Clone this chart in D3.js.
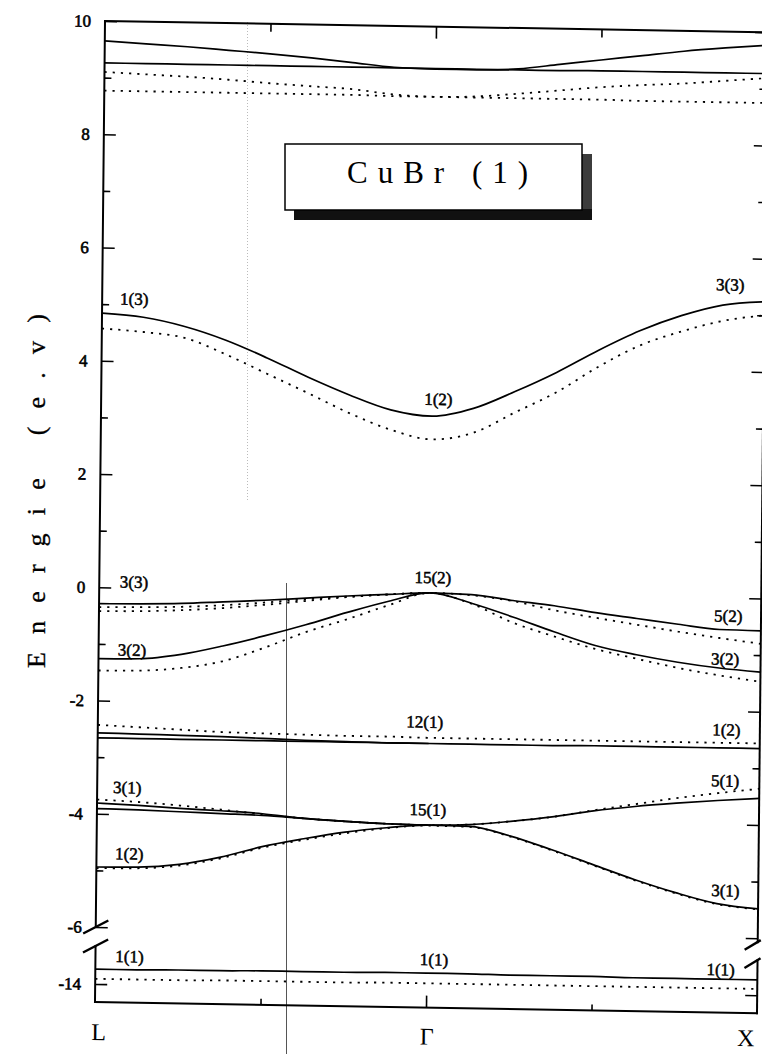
<!DOCTYPE html>
<html>
<head>
<meta charset="utf-8">
<script src="https://cdn.jsdelivr.net/npm/d3@7"></script>
<style>
  html, body { margin: 0; padding: 0; background: #fff; }
  svg { display: block; }
</style>
</head>
<body>
<svg id="chart" width="762" height="1054" font-family="'Liberation Serif', 'Times New Roman', serif"></svg>
<script>
// Wave-vector path: L = 0, Γ = 0.5, X = 1
const kFull = [0, 0.0625, 0.125, 0.1875, 0.25, 0.3125, 0.375, 0.4375, 0.5,
               0.5625, 0.625, 0.6875, 0.75, 0.8125, 0.875, 0.9375, 1];
const kHalf = [0, 0.0625, 0.125, 0.1875, 0.25, 0.3125, 0.375, 0.4375, 0.5];

// Energies in eV (solid = first calculation, dotted = second)
const highSolidA  = [9.65, 9.61, 9.57, 9.52, 9.47, 9.41, 9.34, 9.27, 9.25, 9.25, 9.28, 9.37, 9.46, 9.55, 9.64, 9.71, 9.77];
const highSolidB  = [9.26, 9.26, 9.26, 9.26, 9.26, 9.26, 9.26, 9.26, 9.26, 9.26, 9.26, 9.26, 9.27, 9.27, 9.27, 9.27, 9.27];
const highDotA    = [9.10, 9.07, 9.04, 9.00, 8.95, 8.91, 8.87, 8.79, 8.76, 8.78, 8.84, 8.91, 8.98, 9.03, 9.07, 9.13, 9.19];
const highDotB    = [8.77, 8.77, 8.77, 8.77, 8.77, 8.77, 8.77, 8.76, 8.76, 8.76, 8.76, 8.76, 8.76, 8.75, 8.75, 8.75, 8.75];

const condSolid   = [4.84, 4.78, 4.63, 4.40, 4.10, 3.77, 3.47, 3.22, 3.12, 3.27, 3.58, 3.93, 4.33, 4.69, 4.97, 5.17, 5.24];
const condDot     = [4.57, 4.52, 4.43, 4.15, 3.82, 3.49, 3.15, 2.87, 2.71, 2.84, 3.21, 3.58, 4.04, 4.43, 4.69, 4.89, 5.00];

const vbTopSolid  = [-0.29, -0.28, -0.26, -0.22, -0.18, -0.13, -0.08, -0.04, 0.00, -0.02, -0.11, -0.19, -0.30, -0.39, -0.48, -0.56, -0.57];
const vbMidSolid  = [-1.26, -1.25, -1.16, -1.00, -0.81, -0.60, -0.37, -0.16, 0.00, -0.17, -0.40, -0.65, -0.88, -1.03, -1.15, -1.24, -1.30];
const vbTopDotA   = [-0.35, -0.34, -0.32, -0.28, -0.22, -0.15, -0.09, -0.04, 0.00, -0.03, -0.12, -0.27, -0.39, -0.50, -0.61, -0.71, -0.80];
const vbTopDotB   = [-0.42, -0.41, -0.38, -0.33, -0.26, -0.18, -0.10, -0.04, 0.00];
const vbMidDot    = [-1.47, -1.46, -1.40, -1.27, -1.02, -0.73, -0.49, -0.23, 0.00, -0.18, -0.50, -0.73, -0.94, -1.10, -1.25, -1.37, -1.47];

const dSolidA     = [-2.57, -2.58, -2.59, -2.60, -2.62, -2.64, -2.65, -2.66, -2.66];
const dSolidB     = [-2.66, -2.66, -2.66, -2.66, -2.66, -2.66, -2.66, -2.66, -2.66, -2.66, -2.66, -2.66, -2.65, -2.65, -2.65, -2.65, -2.65];
const dDot        = [-2.43, -2.46, -2.49, -2.52, -2.53, -2.54, -2.55, -2.55, -2.56, -2.56, -2.56, -2.56, -2.56, -2.56, -2.56, -2.56, -2.56];

const pSolidA     = [-3.81, -3.84, -3.88, -3.91, -3.95, -4.02, -4.06, -4.09, -4.10, -4.08, -4.01, -3.92, -3.80, -3.71, -3.64, -3.58, -3.53];
const pSolidB     = [-3.91, -3.92, -3.94, -3.96, -3.98, -4.02, -4.06, -4.09, -4.10];
const pDotA       = [-3.75, -3.78, -3.83, -3.89, -3.96, -4.02, -4.06, -4.09, -4.10, -4.08, -4.01, -3.92, -3.79, -3.67, -3.55, -3.45, -3.36];
const pLowSolid   = [-4.94, -4.93, -4.87, -4.73, -4.53, -4.38, -4.25, -4.16, -4.10, -4.11, -4.27, -4.50, -4.75, -5.00, -5.22, -5.40, -5.48];
const pLowDot     = [-4.96, -4.95, -4.89, -4.75, -4.55, -4.40, -4.27, -4.17, -4.11, -4.12, -4.28, -4.51, -4.76, -5.01, -5.23, -5.41, -5.49];

const sSolid      = [-13.74, -13.74, -13.73, -13.73, -13.72, -13.72, -13.72, -13.71, -13.71, -13.71, -13.72, -13.72, -13.72, -13.73, -13.73, -13.73, -13.73];
const sDot        = [-13.91, -13.91, -13.91, -13.90, -13.90, -13.90, -13.90, -13.89, -13.89, -13.89, -13.89, -13.89, -13.89, -13.89, -13.89, -13.89, -13.89];

// Axis ticks
const yMajor = [10, 8, 6, 4, 2, 0, -2, -4, -6, -14];
const yMinor = [9, 7, 5, 3, 1, -1, -3, -5];
const yTickLabels = ["10", "8", "6", "4", "2", "0", "-2", "-4", "-6", "-14"];
const kPoints = [0, 0.5, 1];
const kPointLabels = ["L", "Γ", "X"];

// Symmetry labels: text, k position, energy
const bandLabels = [
  { t: "1(3)",  k: 0.027, e: 5.00 },
  { t: "1(2)",  k: 0.488, e: 3.32 },
  { t: "3(3)",  k: 0.927, e: 5.43 },
  { t: "3(3)",  k: 0.031, e: 0.00 },
  { t: "3(2)",  k: 0.029, e: -1.20 },
  { t: "15(2)", k: 0.476, e: 0.17 },
  { t: "5(2)",  k: 0.929, e: -0.42 },
  { t: "3(2)",  k: 0.925, e: -1.18 },
  { t: "12(1)", k: 0.466, e: -2.38 },
  { t: "1(2)",  k: 0.928, e: -2.43 },
  { t: "3(1)",  k: 0.024, e: -3.63 },
  { t: "5(1)",  k: 0.927, e: -3.33 },
  { t: "15(1)", k: 0.472, e: -3.93 },
  { t: "1(2)",  k: 0.028, e: -4.80 },
  { t: "3(1)",  k: 0.929, e: -5.27 },
  { t: "1(1)",  k: 0.030, e: -13.61 },
  { t: "1(1)",  k: 0.490, e: -13.57 },
  { t: "1(1)",  k: 0.923, e: -13.66 }
];

const bands = [
  { k: kFull, e: highSolidA, dotted: false },
  { k: kFull, e: highSolidB, dotted: false },
  { k: kFull, e: highDotA,   dotted: true },
  { k: kFull, e: highDotB,   dotted: true },
  { k: kFull, e: condSolid,  dotted: false },
  { k: kFull, e: condDot,    dotted: true },
  { k: kFull, e: vbTopDotA,  dotted: true },
  { k: kHalf, e: vbTopDotB,  dotted: true },
  { k: kFull, e: vbMidDot,   dotted: true },
  { k: kFull, e: vbTopSolid, dotted: false },
  { k: kFull, e: vbMidSolid, dotted: false },
  { k: kFull, e: dDot,       dotted: true },
  { k: kHalf, e: dSolidA,    dotted: false },
  { k: kFull, e: dSolidB,    dotted: false },
  { k: kFull, e: pDotA,      dotted: true },
  { k: kFull, e: pLowDot,    dotted: true },
  { k: kFull, e: pSolidA,    dotted: false },
  { k: kHalf, e: pSolidB,    dotted: false },
  { k: kFull, e: pLowSolid,  dotted: false },
  { k: kFull, e: sDot,       dotted: true },
  { k: kFull, e: sSolid,     dotted: false }
];

const SERIF = "'Liberation Serif', 'Times New Roman', serif";
const W = 662, H = 981;
const x = d3.scaleLinear().domain([0, 1]).range([0, W]);
// broken energy axis: lower window around -14 eV, gap, then -6..10 eV
const y = d3.scaleLinear().domain([-14.318, -13.35, -6, 10]).range([H, 926, 906, 0]);

const svg = d3.select("#chart");
svg.append("rect").attr("width", 762).attr("height", 1054).attr("fill", "#fff");

// thin guide lines on the sheet
svg.append("line").attr("x1", 247.5).attr("y1", 22).attr("x2", 247.5).attr("y2", 500)
  .attr("stroke", "#bbb").attr("stroke-width", 1).attr("stroke-dasharray", "1,2");
svg.append("line").attr("x1", 286.5).attr("y1", 583).attr("x2", 286.5).attr("y2", 1054)
  .attr("stroke", "#555").attr("stroke-width", 1);

// plot frame (slightly sheared like the printed sheet)
const g = svg.append("g").attr("transform", "matrix(1,0.017,-0.0102,1,105,21)");

const line = d3.line()
  .x(d => x(d[0]))
  .y(d => y(d[1]))
  .curve(d3.curveMonotoneX);

g.append("g").selectAll("path").data(bands).join("path")
  .attr("d", b => line(b.k.map((k, i) => [k, b.e[i]])))
  .attr("fill", "none")
  .attr("stroke", "#000")
  .attr("stroke-width", b => b.dotted ? 1.8 : 1.7)
  .attr("stroke-dasharray", b => b.dotted ? "2.2,6" : null);

// ticks via d3 axes
function ticks(axisGen, tx, ty) {
  const a = g.append("g").attr("transform", `translate(${tx},${ty})`).call(axisGen);
  a.select(".domain").remove();
  a.selectAll("line").attr("stroke", "#000").attr("stroke-width", 1.6);
  a.selectAll("text").remove();
}
ticks(d3.axisRight(y).tickValues(yMajor).tickSize(12).tickSizeOuter(0), 0, 0);
ticks(d3.axisRight(y).tickValues(yMinor).tickSize(7).tickSizeOuter(0), 0, 0);
ticks(d3.axisLeft(y).tickValues(yMajor).tickSize(12).tickSizeOuter(0), W, 0);
ticks(d3.axisLeft(y).tickValues(yMinor).tickSize(7).tickSizeOuter(0), W, 0);
ticks(d3.axisBottom(x).tickValues([0.5]).tickSize(12).tickSizeOuter(0), 0, 0);
ticks(d3.axisBottom(x).tickValues([0.25, 0.75]).tickSize(8).tickSizeOuter(0), 0, 0);
ticks(d3.axisTop(x).tickValues([0.5]).tickSize(12).tickSizeOuter(0), 0, H);
ticks(d3.axisTop(x).tickValues([0.25, 0.75]).tickSize(6).tickSizeOuter(0), 0, H);

// frame lines with breaks
const frame = [
  [0, 0, W, 0],
  [0, H, W, H],
  [0, 0, 0, y(-6)],
  [0, 925, 0, H],
  [W, 0, W, 910],
  [W, 928, W, H]
];
g.append("g").selectAll("line").data(frame).join("line")
  .attr("x1", d => d[0]).attr("y1", d => d[1])
  .attr("x2", d => d[2]).attr("y2", d => d[3])
  .attr("stroke", "#000").attr("stroke-width", 2)
  .attr("stroke-linecap", "square");

// break marks
const slashes = [
  [-12.5, y(-6) + 6.7, 12.5, y(-6) - 6.7],
  [-12.5, 925 + 6.7, 12.5, 925 - 6.7],
  [W - 13, 917.8, W + 3, 907.8],
  [W - 13, 936, W + 3, 926]
];
g.append("g").selectAll("line").data(slashes).join("line")
  .attr("x1", d => d[0]).attr("y1", d => d[1])
  .attr("x2", d => d[2]).attr("y2", d => d[3])
  .attr("stroke", "#000").attr("stroke-width", 2.4);

// energy tick labels
g.append("g").selectAll("text").data(yMajor).join("text")
  .attr("font-family", SERIF)
  .attr("x", -14)
  .attr("y", d => y(d))
  .attr("dy", "0.35em")
  .attr("text-anchor", "end")
  .attr("font-size", 17)
  .attr("stroke", "#000").attr("stroke-width", 0.6)
  .text((d, i) => yTickLabels[i]);

// high-symmetry point labels
g.append("g").selectAll("text").data(kPoints).join("text")
  .attr("font-family", SERIF)
  .attr("x", (d, i) => x(d) + [4, 1, -11][i])
  .attr("y", (d, i) => [1019, 1018, 1014][i])
  .attr("text-anchor", "middle")
  .attr("font-size", 24)
  .text((d, i) => kPointLabels[i]);

// band symmetry labels
g.append("g").selectAll("text").data(bandLabels).join("text")
  .attr("font-family", SERIF)
  .attr("x", d => x(d.k))
  .attr("y", d => y(d.e))
  .attr("font-size", 17)
  .attr("stroke", "#000").attr("stroke-width", 0.5)
  .text(d => d.t);

// axis title
svg.append("text")
  .attr("font-family", SERIF)
  .attr("transform", "translate(45,491) rotate(-90)")
  .attr("text-anchor", "middle")
  .attr("font-size", 26)
  .attr("stroke", "#000").attr("stroke-width", 0.3)
  .attr("textLength", 354)
  .attr("lengthAdjust", "spacing")
  .text("Energie (e.v)");

// title box with drop shadow
const box = svg.append("g");
box.append("rect").attr("x", 582).attr("y", 154).attr("width", 10).attr("height", 66).attr("fill", "#3c3c3c");
box.append("rect").attr("x", 294).attr("y", 209).attr("width", 298).attr("height", 11).attr("fill", "#111");
box.append("rect").attr("x", 285).attr("y", 144).attr("width", 297).attr("height", 66)
  .attr("fill", "#fff").attr("stroke", "#000").attr("stroke-width", 1.5);
box.append("text")
  .attr("font-family", SERIF)
  .attr("x", 437.5).attr("y", 183)
  .attr("text-anchor", "middle")
  .attr("font-size", 31)
  .attr("textLength", 181)
  .attr("lengthAdjust", "spacing")
  .text("CuBr (1)");
</script>
</body>
</html>
